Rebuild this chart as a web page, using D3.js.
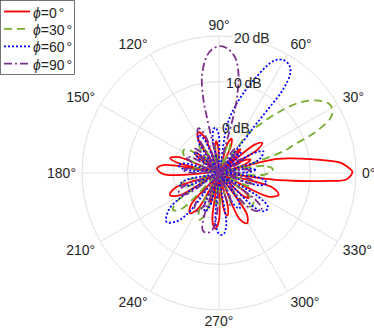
<!DOCTYPE html>
<html>
<head>
<meta charset="utf-8">
<script src="https://cdn.jsdelivr.net/npm/d3@7"></script>
<style>
  body { margin: 0; background: #fff; }
  svg { display: block; font-family: "Liberation Sans", Arial, sans-serif; }
</style>
</head>
<body>
<svg width="374" height="330"></svg>
<script>
// values (angle in degrees, gain in dB)
const legendLabels = ['0', '30', '60', '90']
const angleTicks = [0, 30, 60, 90, 120, 150, 180, 210, 240, 270, 300, 330]
const dbTicks = [0, 10, 20]

const phi0Angles = [0.5, 3, 5, 8.7, 11.5, 13.6, 14.7, 16, 18.5, 23, 27, 29, 31.5, 35, 38.5, 42, 45, 48, 51, 55, 66, 70, 74, 80, 91.5, 95, 98.5, 104, 112, 117, 122, 127, 136.5, 140, 143.5, 150, 158.5, 163, 166, 169, 171.5, 176, 181.5, 185, 198.5, 204, 209.5, 217, 228.5, 234, 239.5, 248, 251.5, 255, 258, 262, 266, 270, 274, 277.5, 281, 284.5, 289, 294, 299, 304, 309, 316, 320, 324, 328, 334.5, 340, 345, 348, 353, 354.4, 355.8, 357.2]
const phi0Gains = [19.2, 18, 16.5, 10.2, 6, 3.1, -1.4, -10, -4, -2.5, -4, -10, 0, 1.5, 0, -10, -4.5, -3, -4.5, -10, -3.5, -2, -3.5, -10, -4.5, -3, -4.5, -10, -1.5, 0, -1.5, -10, -4.5, -3, -4.5, -10, -0.5, 1.2, -0.5, -10, 2, 3.6, 2, -10, 0, 1.8, 0, -10, -0.8, 0.9, -0.8, -10, -4.5, -3, -10, 0.4, 2.2, 0.4, -10, -2, -0.5, -2, -10, 1, 2.6, 1, -10, -3, -1.5, -3, -10, 2, 3.9, 2, -10, 2, 8, 13.7, 18]

const phi30Angles = [4, 9, 15, 16.5, 17.7, 19, 20.6, 22.8, 26.2, 29, 32, 36, 41, 46, 50.8, 53.6, 57, 66, 70, 74, 82, 96, 100, 104, 112, 120.5, 125, 129.5, 135, 141, 146, 151, 156, 161, 166.5, 170, 173.5, 180, 193, 198, 203, 209, 214, 219, 224, 231, 242.5, 247, 251.5, 257, 263.5, 268, 272.5, 278, 285.5, 290, 294.5, 300, 309, 314, 319, 323, 328, 335.5, 340, 344.5, 350, 358]
const phi30Gains = [1.8, 0, -10, -2.5, 1.8, 5.5, 7.4, 12.5, 17.2, 18.4, 18.5, 17, 13.6, 8.2, 3.1, 0.5, -10, -4.5, -3, -4.5, -10, -5.5, -4, -5.5, -10, -4, -2.5, -4, -10, -2.5, -0.8, -1, -2.5, -10, -5, -3.5, -5, -10, -2.5, -1, -2.5, -10, 1.2, 2.9, 1.2, -10, -0.5, 1.1, -0.5, -10, -3.8, -2.3, -3.8, -10, -4.5, -3, -4.5, -10, -1.5, 0.2, 0, -1.5, -10, -3.5, -2, -3.5, -10, 0]

const phi60Angles = [1.5, 5, 8.5, 12, 17, 21, 26, 30, 35, 39.5, 43, 46.5, 50.5, 52.7, 52.8, 52.4, 52.5, 54.5, 57, 60, 63, 65, 68.6, 73, 77.2, 80.6, 84, 90.5, 95, 99.5, 104, 113.5, 118.6, 123.5, 129, 135.5, 140, 144.5, 150, 164, 169, 174, 182, 192, 197, 202, 208, 212, 216, 223, 229, 233, 236, 245.5, 250, 254.5, 260, 266, 270, 274, 278, 283, 295, 300, 305, 311, 316, 320, 325, 329, 334, 343, 348, 353, 358]
const phi60Gains = [-3.5, -2, -3.5, -10, -1.5, 0, 0.8, -1.5, -10, -5, -3.5, -5, -10, 0, 3.7, 8.4, 13, 16.9, 18.2, 18.5, 17.8, 16.6, 12.7, 8.3, 4.2, 0.3, -10, -1.5, 0, -1.5, -10, -2, -0.5, -2, -10, -4.5, -3, -4.5, -10, -2.4, -0.9, -2.4, -10, -2.5, -1, -2.5, -10, -1, 3.5, 5.7, 4, 0, -10, -2.5, -1, -2.5, -10, 1, 3.3, 3.5, 1.5, -10, -2.5, -1, -2.5, -10, 1, 3, 3.1, 0, -10, -0.8, 0.7, -0.8, -10]

const phi90Angles = [1.5, 5, 8.5, 15, 25.5, 30, 33.5, 40, 50.5, 55, 58.5, 73.5, 75.7, 76.4, 79, 82, 86, 89.5, 93, 96, 100, 102, 102.3, 104.5, 110.5, 115, 119.5, 125, 131, 135, 139, 145, 150, 154, 158, 164, 171, 175, 179, 186, 200, 205, 210, 214, 220, 231.5, 236, 241, 245, 248, 251, 254, 258, 263, 267, 271, 285.5, 290, 294.5, 302, 310, 315, 320, 324, 330, 341, 345, 349, 355]
const phi90Gains = [-4.5, -3, -4.5, -10, -5, -3.5, -5, -10, -4.5, -3, -4.5, -10, 1.3, 6.5, 12.3, 15.5, 17.3, 17.8, 17.2, 15.7, 11.5, 6.4, 1.9, -10, -0.8, 0.8, -0.8, -10, -4, -2.5, -4, -10, -3.5, -2, -3.5, -10, -3.5, -2, -3.5, -10, -2, -0.3, -0.5, -2, -10, -2, -0.5, -0.5, -2, -10, 0, 3, 3.4, 2.7, -1, -10, -4, -2.5, -4, -10, -0.5, 1.8, 2.2, -0.5, -10, -3, -1.6, -3, -10]

const series = [
  { angles: phi0Angles, gains: phi0Gains, color: '#ff0000', dash: null },
  { angles: phi30Angles, gains: phi30Gains, color: '#77ac30', dash: '8,5' },
  { angles: phi60Angles, gains: phi60Gains, color: '#0000ff', dash: '2,2' },
  { angles: phi90Angles, gains: phi90Gains, color: '#7e2f8e', dash: '8,3,2,3' }
]

const cx = 219
const cy = 173
const outerRadius = 137
const textColor = '#262626'
const gridColor = '#dfdfdf'
const fontSize = '14px'

const svg = d3.select('svg')
const rScale = d3.scaleLinear().domain([-10, 20]).range([0, outerRadius]).clamp(true)
const toRad = d => d * Math.PI / 180

const plot = svg.append('g').attr('transform', `translate(${cx}, ${cy})`)

// grid
plot.selectAll('.ring')
    .data(dbTicks)
    .join('circle')
    .attr('r', d => rScale(d))
    .attr('fill', 'none')
    .attr('stroke', gridColor)
    .attr('stroke-width', 1)

plot.selectAll('.spoke')
    .data(angleTicks)
    .join('line')
    .attr('x1', 0).attr('y1', 0)
    .attr('x2', d => outerRadius * Math.cos(toRad(d)))
    .attr('y2', d => -outerRadius * Math.sin(toRad(d)))
    .attr('stroke', gridColor)
    .attr('stroke-width', 1)

// curves
const line = d3.lineRadial()
               .angle(d => toRad(90 - d[0]))
               .radius(d => rScale(d[1]))
               .curve(d3.curveCatmullRomClosed.alpha(0.5))

series.forEach(s => {
  const pts = s.angles.map((a, i) => [a, s.gains[i]])
  plot.append('path')
      .attr('d', line(pts))
      .attr('fill', 'none')
      .attr('stroke', s.color)
      .attr('stroke-width', 1.8)
      .attr('stroke-dasharray', s.dash)
})

// angle labels
const labelR = outerRadius + 6
angleTicks.forEach(d => {
  const c = Math.cos(toRad(d))
  const s = Math.sin(toRad(d))
  plot.append('text')
      .attr('x', labelR * c)
      .attr('y', s > 0.01 ? -labelR * s : (s < -0.01 ? -labelR * s + 10 : 0))
      .attr('text-anchor', c > 0.01 ? 'start' : (c < -0.01 ? 'end' : 'middle'))
      .attr('dominant-baseline', Math.abs(s) < 0.01 ? 'central' : 'alphabetic')
      .attr('fill', textColor)
      .style('font-size', fontSize)
      .text(`${d}°`)
})

// radial labels at 80 degrees
dbTicks.forEach(d => {
  const r = rScale(d)
  plot.append('text')
      .attr('x', r * Math.cos(toRad(80)) + 9)
      .attr('y', -r * Math.sin(toRad(80)))
      .attr('text-anchor', 'middle')
      .attr('dominant-baseline', 'central')
      .attr('fill', textColor)
      .style('font-size', fontSize)
      .text(`${d}\u2009dB`)
})

// legend
const legend = svg.append('g')
legend.append('rect')
      .attr('x', 0.5).attr('y', 0.5)
      .attr('width', 74).attr('height', 74)
      .attr('fill', '#fff')
      .attr('stroke', '#3a3a3a')
      .attr('stroke-width', 0.7)

series.forEach((s, i) => {
  const y = 11.5 + i * 17.4
  legend.append('line')
        .attr('x1', 4).attr('x2', 30)
        .attr('y1', y).attr('y2', y)
        .attr('stroke', s.color)
        .attr('stroke-width', 1.8)
        .attr('stroke-dasharray', s.dash)
  const t = legend.append('text')
                  .attr('x', 33).attr('y', y + 1)
                  .attr('dominant-baseline', 'central')
                  .attr('fill', textColor)
                  .style('font-size', fontSize)
  t.append('tspan').style('font-style', 'italic').text('ϕ')
  t.append('tspan').text(`=${legendLabels[i]}`)
  t.append('tspan').attr('dx', 2).text('°')
})
</script>
</body>
</html>
